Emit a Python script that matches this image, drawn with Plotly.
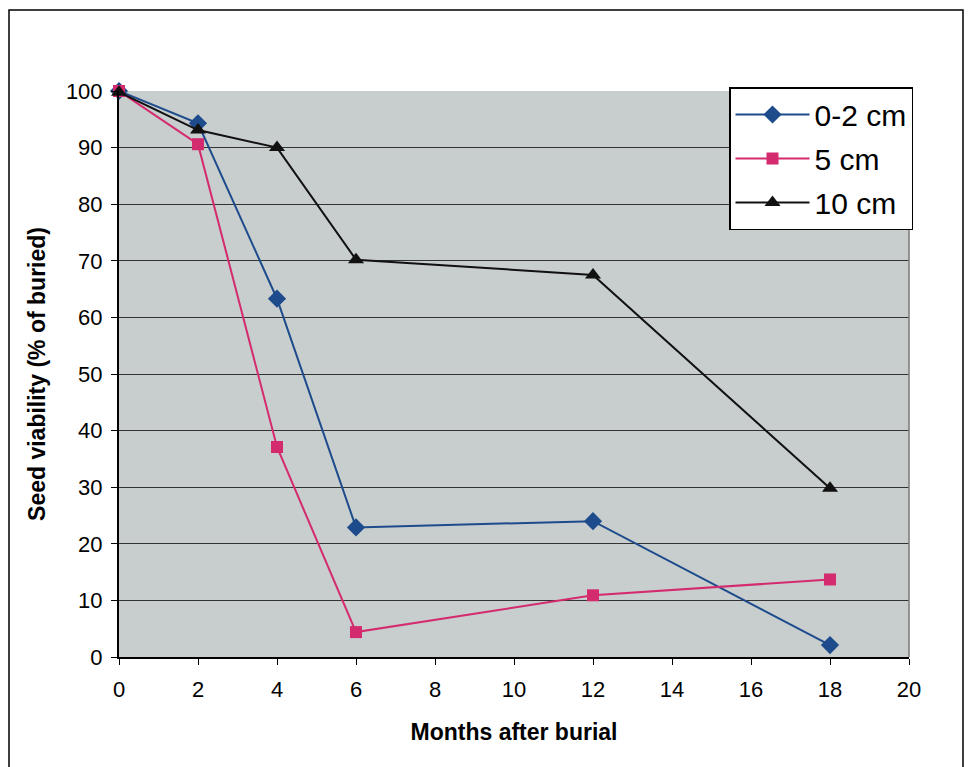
import plotly.graph_objects as go

months = [0, 2, 4, 6, 12, 18]
depth_0_2 = [100, 94.3, 63.3, 22.9, 24.0, 2.1]
depth_5 = [100, 90.6, 37.1, 4.4, 10.9, 13.7]
depth_10 = [99.8, 93.1, 90.0, 70.2, 67.5, 29.8]
series_names = ["0-2 cm", "5 cm", "10 cm"]
x_ticks = list(range(0, 22, 2))
y_ticks = list(range(0, 110, 10))

fig = go.Figure()
styles = [
    (depth_0_2, "#1d4b8c", "diamond", 14),
    (depth_5, "#d42a6e", "square", 12),
    (depth_10, "#111111", "triangle-up", 14),
]
for name, (vals, col, sym, sz) in zip(series_names, styles):
    fig.add_trace(go.Scatter(
        x=months, y=vals, name=name, mode="lines+markers",
        legendgroup=name,
        line=dict(color=col, width=2),
        marker=dict(symbol=sym, size=sz, color=col, line=dict(width=0)),
        cliponaxis=False,
    ))

font_family = "Liberation Sans, Arial, sans-serif"
fig.update_layout(
    width=973, height=767,
    margin=dict(l=119, r=64, t=91, b=110),
    paper_bgcolor="white",
    plot_bgcolor="#c8cdcd",
    font=dict(family=font_family, color="black", size=22),
    showlegend=True,
    legend=dict(
        x=(913 - 119) / 790, y=(657 - 87) / 566, xanchor="right", yanchor="top",
        bgcolor="white", bordercolor="black", borderwidth=1.5,
        font=dict(size=30, family=font_family),
        traceorder="grouped", tracegroupgap=2,
        itemwidth=74,
    ),
    xaxis=dict(
        range=[0, 20], tickvals=x_ticks, ticks="outside", ticklen=6,
        tickcolor="black", showline=True, linecolor="black", linewidth=2,
        showgrid=False, zeroline=False, mirror=False,
        tickfont=dict(size=22), ticklabelstandoff=6,
        title=dict(text="<b>Months after burial</b>", font=dict(size=23), standoff=22),
    ),
    yaxis=dict(
        range=[0, 100], tickvals=y_ticks, ticks="outside", ticklen=6,
        tickcolor="black", showline=True, linecolor="black", linewidth=2,
        showgrid=True, gridcolor="#333333", gridwidth=1, zeroline=False,
        tickfont=dict(size=22), ticklabelstandoff=4,
        title=dict(text="<b>Seed viability (% of buried)</b>", font=dict(size=23), standoff=14),
    ),
    shapes=[
        dict(type="line", xref="paper", yref="paper", x0=1, x1=1, y0=0, y1=1,
             line=dict(color="#777777", width=1.5)),
        dict(type="rect", xref="paper", yref="paper",
             x0=(9 - 119) / 790, x1=(963 - 119) / 790,
             y0=(657 - 770) / 566, y1=(657 - 10) / 566,
             line=dict(color="black", width=1.5), layer="below"),
    ],
)

fig.write_html("out.html")
